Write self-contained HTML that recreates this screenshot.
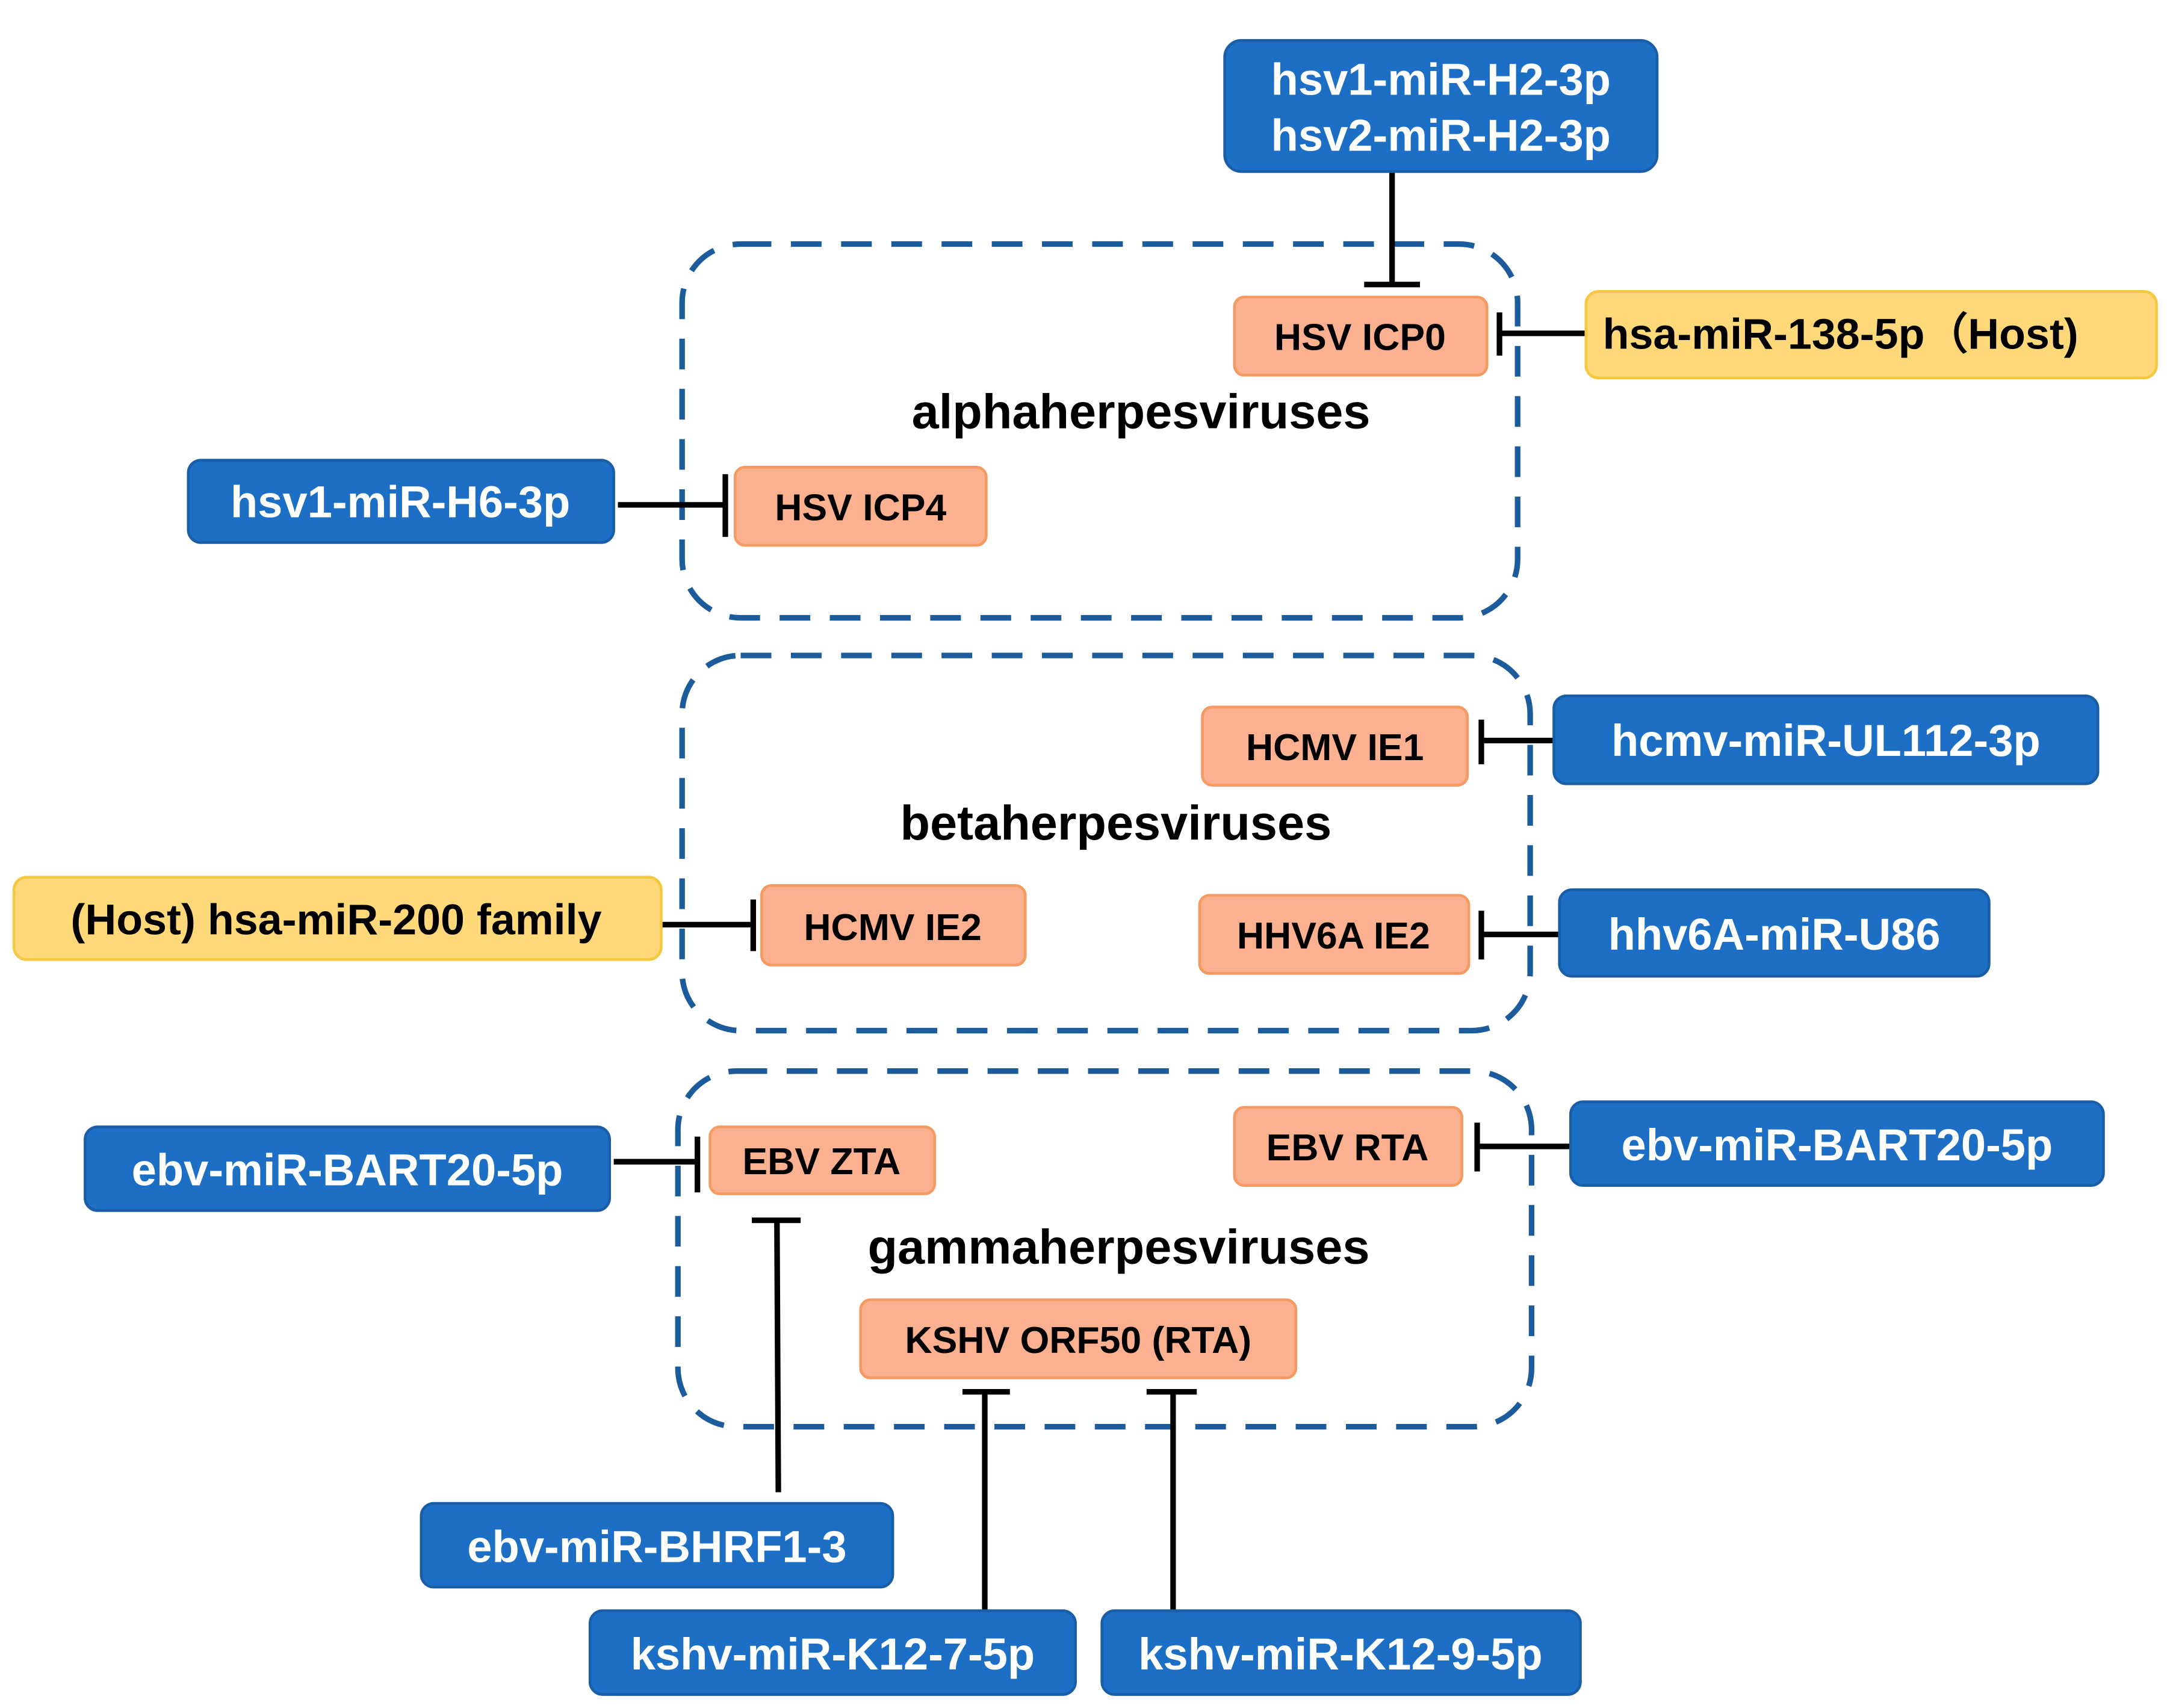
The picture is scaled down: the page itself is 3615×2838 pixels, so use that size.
<!DOCTYPE html>
<html><head><meta charset="utf-8"><style>
html,body{margin:0;padding:0;background:#fff;}
svg{display:block;}
text{font-family:"Liberation Sans",Arial,sans-serif;font-weight:bold;}
.b{fill:#1d6fc6;stroke:#1b5ea8;stroke-width:2;}
.y{fill:#ffd87a;stroke:#f5c842;stroke-width:2;}
.s{fill:#fbb08f;stroke:#f59a62;stroke-width:2;}
.w{fill:#fff;font-size:32px;}
.k{fill:#000;font-size:27px;}
.t{fill:#000;font-size:35px;}
.d{fill:none;stroke:#1c5c9c;stroke-width:4;stroke-dasharray:22 14;}
.l{stroke:#000;stroke-width:4;fill:none;}
</style></head><body>
<svg width="3615" height="2838" viewBox="0 0 1560 1224.7" xmlns="http://www.w3.org/2000/svg">
<rect class="d" x="489" y="175" width="599" height="268" rx="42"/>
<rect class="d" x="489" y="470" width="608" height="269" rx="42"/>
<rect class="d" x="486" y="768" width="612" height="255" rx="42"/>

<path class="l" d="M998 123V204M978 204H1018"/>
<path class="l" d="M1137 239H1075M1075 224V255"/>
<path class="l" d="M443 362H520M520 340V385"/>
<path class="l" d="M1114 531H1062M1062 516V548"/>
<path class="l" d="M474 663H540M540 645V682"/>
<path class="l" d="M1118 670H1062M1062 653V688"/>
<path class="l" d="M440 833H500M500 815V855"/>
<path class="l" d="M1126 822H1059M1059 805V840"/>
<path class="l" d="M558 1070L557 875M539 875H574"/>
<path class="l" d="M706 1155V998M690 998H724"/>
<path class="l" d="M841 1155V998M822 998H858"/>

<rect class="b" x="878" y="29" width="310" height="94" rx="12"/>
<text class="w" x="1033" y="68" text-anchor="middle">hsv1-miR-H2-3p</text>
<text class="w" x="1033" y="108" text-anchor="middle">hsv2-miR-H2-3p</text>

<rect class="b" x="135" y="330" width="305" height="59" rx="9"/>
<text class="w" x="287" y="371" text-anchor="middle">hsv1-miR-H6-3p</text>

<rect class="b" x="1114" y="499" width="390" height="63" rx="9"/>
<text class="w" x="1309" y="542" text-anchor="middle">hcmv-miR-UL112-3p</text>

<rect class="b" x="1118" y="638" width="308" height="62" rx="9"/>
<text class="w" x="1272" y="681" text-anchor="middle">hhv6A-miR-U86</text>

<rect class="b" x="61" y="808" width="376" height="60" rx="9"/>
<text class="w" x="249" y="850" text-anchor="middle">ebv-miR-BART20-5p</text>

<rect class="b" x="1126" y="790" width="382" height="60" rx="9"/>
<text class="w" x="1317" y="832" text-anchor="middle">ebv-miR-BART20-5p</text>

<rect class="b" x="302" y="1078" width="338" height="60" rx="9"/>
<text class="w" x="471" y="1120" text-anchor="middle">ebv-miR-BHRF1-3</text>

<rect class="b" x="423" y="1155" width="348" height="60" rx="9"/>
<text class="w" x="597" y="1197" text-anchor="middle">kshv-miR-K12-7-5p</text>

<rect class="b" x="790" y="1155" width="343" height="60" rx="9"/>
<text class="w" x="961" y="1197" text-anchor="middle">kshv-miR-K12-9-5p</text>

<rect class="y" x="1137" y="209" width="409" height="62" rx="9"/>
<text class="k" x="1149" y="250" style="font-size:31px">hsa-miR-138-5p（Host)</text>
<rect class="y" x="10" y="629" width="464" height="59" rx="9"/>
<text class="k" x="241" y="670" text-anchor="middle" style="font-size:31px">(Host) hsa-miR-200 family</text>

<rect class="s" x="885" y="213" width="181" height="56" rx="7"/>
<text class="k" x="975" y="251" text-anchor="middle">HSV ICP0</text>
<rect class="s" x="527" y="335" width="180" height="56" rx="7"/>
<text class="k" x="617" y="373" text-anchor="middle">HSV ICP4</text>
<rect class="s" x="862" y="507" width="190" height="56" rx="7"/>
<text class="k" x="957" y="545" text-anchor="middle">HCMV IE1</text>
<rect class="s" x="546" y="635" width="189" height="57" rx="7"/>
<text class="k" x="640" y="674" text-anchor="middle">HCMV IE2</text>
<rect class="s" x="860" y="642" width="193" height="56" rx="7"/>
<text class="k" x="956" y="680" text-anchor="middle">HHV6A IE2</text>
<rect class="s" x="509" y="808" width="161" height="48" rx="7"/>
<text class="k" x="589" y="842" text-anchor="middle">EBV ZTA</text>
<rect class="s" x="885" y="794" width="163" height="56" rx="7"/>
<text class="k" x="966" y="832" text-anchor="middle">EBV RTA</text>
<rect class="s" x="617" y="932" width="312" height="56" rx="7"/>
<text class="k" x="773" y="970" text-anchor="middle">KSHV ORF50 (RTA)</text>

<text class="t" x="818" y="307" text-anchor="middle">alphaherpesviruses</text>
<text class="t" x="800" y="602" text-anchor="middle">betaherpesviruses</text>
<text class="t" x="802" y="906" text-anchor="middle">gammaherpesviruses</text>
</svg>
</body></html>
